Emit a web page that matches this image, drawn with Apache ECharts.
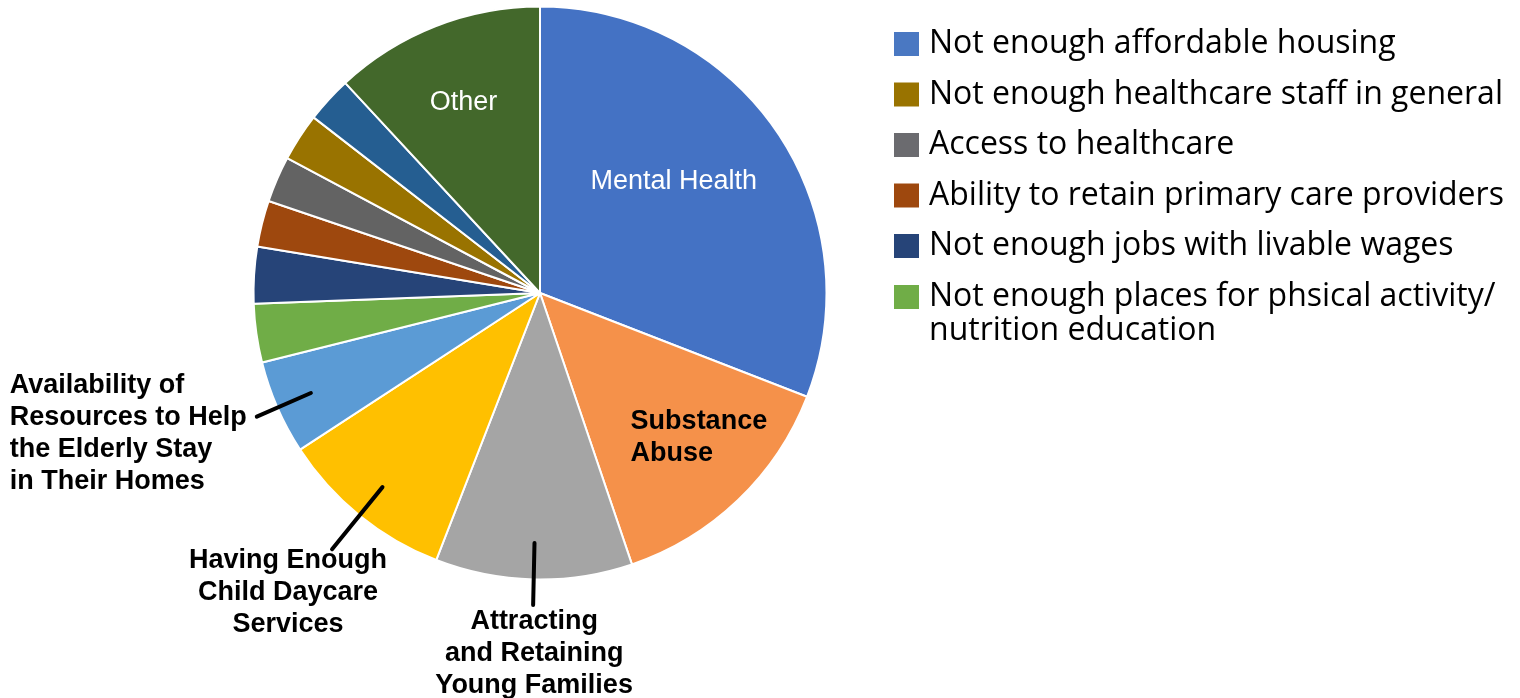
<!DOCTYPE html>
<html><head><meta charset="utf-8">
<script src="https://cdn.jsdelivr.net/npm/echarts@6/dist/echarts.min.js"></script>
<style>html,body{margin:0;padding:0;background:#fff}#chart{width:1520px;height:698px}</style>
</head><body><div id="chart"></div>
<script>
// ---- data (clockwise from 12 o'clock) ----
const categories = [
  'Mental Health',
  'Substance Abuse',
  'Attracting and Retaining Young Families',
  'Having Enough Child Daycare Services',
  'Availability of Resources to Help the Elderly Stay in Their Homes',
  'Not enough places for phsical activity/ nutrition education',
  'Not enough jobs with livable wages',
  'Ability to retain primary care providers',
  'Access to healthcare',
  'Not enough healthcare staff in general',
  'Not enough affordable housing',
  'Other'
];
const values = [30.9, 13.9, 11.1, 9.9, 5.3, 3.3, 3.2, 2.6, 2.6, 2.7, 2.6, 11.9];
const sliceColors = ['#4472C4', '#F5914A', '#A5A5A5', '#FFC000', '#5B9BD5', '#70AD47',
                     '#264478', '#9E480E', '#636363', '#997300', '#255E91', '#43682B'];
const sliceLabels = ['Mental Health', 'Substance\nAbuse', 'Attracting\nand Retaining\nYoung Families',
  'Having Enough\nChild Daycare\nServices', 'Availability of\nResources to Help\nthe Elderly Stay\nin Their Homes',
  '', '', '', '', '', '', 'Other'];
const legendNames = [
  'Not enough affordable housing',
  'Not enough healthcare staff in general',
  'Access to healthcare',
  'Ability to retain primary care providers',
  'Not enough jobs with livable wages',
  'Not enough places for phsical activity/ nutrition education'
];
const legendColors = ['#4A78C2', '#997300', '#6B6B6F', '#9E480E', '#264478', '#70AD47'];

// ---- styling ----
const CENTER = [540, 293];
const R = 286.5;
const R_GUIDE = 250;
const LABEL_FONT = '"Liberation Sans", Arial, sans-serif';
const insideCfg = {
  0: {color: '#fff', fontWeight: 'normal', dx: 13, dy: -29, align: 'center'},
  1: {color: '#000', fontWeight: 'bold', dx: -10.5, dy: 39, align: 'left'},
  11: {color: '#fff', fontWeight: 'normal', dx: -23, dy: -54, align: 'center'}
};
const outsideCfg = {
  2: {len: 62},
  3: {len: 80},
  4: {len: 59}
};

const chart = echarts.init(document.getElementById('chart'));

const mainData = categories.map((name, i) => {
  const c = insideCfg[i];
  return {
    name, value: values[i],
    itemStyle: {color: sliceColors[i]},
    label: c ? {show: true, position: 'inside', formatter: sliceLabels[i], color: c.color,
                fontWeight: c.fontWeight, fontSize: 27, lineHeight: 32, fontFamily: LABEL_FONT}
             : {show: false}
  };
});
const guideData = categories.map((name, i) => {
  const c = outsideCfg[i];
  return {
    name, value: values[i],
    label: c ? {show: true, formatter: sliceLabels[i]} : {show: false},
    labelLine: c ? {show: true, length: c.len, length2: 0} : {show: false}
  };
});

const legendBase = {
  orient: 'vertical', left: 894, padding: 0, itemWidth: 25, itemHeight: 24, itemGap: 16.5,
  icon: 'rect', selectedMode: false, itemStyle: {borderWidth: 0},
  textStyle: {fontFamily: '"Open Sans", sans-serif', fontSize: 32, lineHeight: 34, color: '#000',
              padding: [0, 0, 0, 5]}
};

chart.setOption({
  animation: false,
  backgroundColor: '#fff',
  legend: [
    Object.assign({}, legendBase, {
      top: 27,
      data: legendNames.slice(0, 5).map((n, i) => ({name: n, itemStyle: {color: legendColors[i]}}))
    }),
    Object.assign({}, legendBase, {
      top: 246,
      // leading empty line keeps the first text line level with the icon
      formatter: n => '\n' + n.replace('/ ', '/\n'),
      data: legendNames.slice(5).map((n, i) => ({name: n, itemStyle: {color: legendColors[5 + i]}}))
    })
  ],
  series: [
    {
      type: 'pie', center: CENTER, radius: [0, R], startAngle: 90, clockwise: true, z: 2,
      silent: true, emphasis: {disabled: true}, avoidLabelOverlap: false,
      itemStyle: {borderColor: '#fff', borderWidth: 2},
      labelLine: {show: false},
      data: mainData,
      labelLayout: function (p) {
        const c = insideCfg[p.dataIndex];
        if (!c) return {};
        const r = p.labelRect;
        return {x: r.x + r.width / 2 + c.dx, y: r.y + r.height / 2 + c.dy,
                align: c.align, verticalAlign: 'middle'};
      }
    },
    {
      type: 'pie', center: CENTER, radius: [0, R_GUIDE], startAngle: 90, clockwise: true, z: 5,
      silent: true, emphasis: {disabled: true}, avoidLabelOverlap: false,
      itemStyle: {color: 'rgba(0,0,0,0)', borderWidth: 0},
      label: {fontFamily: LABEL_FONT, fontSize: 27, fontWeight: 'bold', color: '#000', lineHeight: 32,
              bleedMargin: 0},
      labelLine: {lineStyle: {color: '#000', width: 4, cap: 'round'}},
      data: guideData,
      labelLayout: function (p) {
        const pts = p.labelLinePoints;
        if (!pts || !outsideCfg[p.dataIndex]) return {};
        const e = pts[pts.length - 1];
        const keep = pts.map(q => [q[0], q[1]]);
        if (p.dataIndex === 2) {
          return {x: e[0] + 1, y: e[1] + 1, align: 'center', verticalAlign: 'top', labelLinePoints: keep};
        }
        if (p.dataIndex === 3) {
          return {x: e[0] - 44, y: e[1] - 5, align: 'center', verticalAlign: 'top', labelLinePoints: keep};
        }
        return {x: e[0] - 10 - p.labelRect.width, y: e[1] + 17, align: 'left', verticalAlign: 'middle',
                labelLinePoints: keep};
      }
    }
  ]
});
</script>
</body></html>
